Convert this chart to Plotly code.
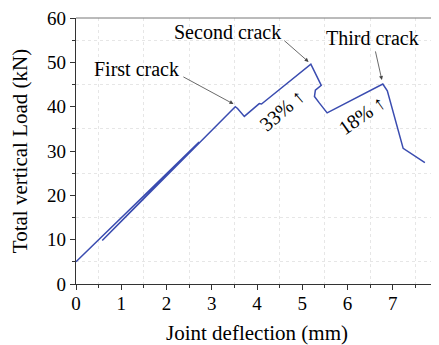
import plotly.graph_objects as go

# Load-deflection curve
deflection_mm = [0.00, 2.72, 0.58, 2.68, 0.62, 2.70, 3.52, 3.57, 3.72, 4.05, 4.10,
                 5.19, 5.42, 5.29, 5.27, 5.38, 5.55, 6.78, 6.88, 7.23, 7.71]
load_kN = [5.0, 32.0, 9.8, 31.4, 10.2, 31.8, 40.0, 39.6, 37.8, 40.7, 40.6,
           49.6, 44.8, 43.7, 42.3, 40.8, 38.6, 45.1, 43.6, 30.6, 27.4]

crack_labels = ["First crack", "Second crack", "Third crack"]
crack_tip_x = [3.48, 5.14, 6.76]
crack_tip_y = [40.6, 50.1, 46.0]
increase_labels = ["33% ↑", "18% ↑"]

FONT = "Liberation Serif, Times New Roman, serif"
LINE = "#3a4cb0"

fig = go.Figure()
fig.add_trace(go.Scatter(x=deflection_mm, y=load_kN, mode="lines",
                         line=dict(color=LINE, width=1.5), showlegend=False))

# crack annotations: text + arrow
text_pos = [(1.33, 48.4), (3.35, 56.9), (6.55, 55.4)]
tail_pos = [(2.34, 46.9), (4.57, 55.2), (6.61, 52.8)]
for lab, tx, ty, (px, py), (ax, ay) in zip(crack_labels, crack_tip_x, crack_tip_y, text_pos, tail_pos):
    fig.add_annotation(x=px, y=py, text=lab, showarrow=False,
                       font=dict(family=FONT, size=20, color="black"))
    fig.add_annotation(x=tx, y=ty, ax=ax, ay=ay, axref="x", ayref="y", text="",
                       showarrow=True, arrowhead=2, arrowsize=1, arrowwidth=0.8,
                       arrowcolor="#444")

fig.add_annotation(x=4.55, y=39.3, text=increase_labels[0], showarrow=False, textangle=-41,
                   font=dict(family=FONT, size=20, color="black"))
fig.add_annotation(x=6.32, y=38.1, text=increase_labels[1], showarrow=False, textangle=-35,
                   font=dict(family=FONT, size=20, color="black"))

# top and right frame lines
fig.add_shape(type="line", xref="paper", yref="paper", x0=0, x1=1, y0=1, y1=1,
              line=dict(color="#777", width=1))
fig.add_shape(type="line", xref="paper", yref="paper", x0=1, x1=1, y0=0, y1=1,
              line=dict(color="#777", width=1))

axis_common = dict(
    showline=True, linecolor="#333", linewidth=1.3, ticks="outside", ticklen=5,
    tickwidth=1.2, tickcolor="#333", showgrid=False, zeroline=False, automargin=False,
    ticklabeloverflow="allow",
    tickfont=dict(family=FONT, size=19, color="black"),
)
fig.update_xaxes(range=[0, 8], dtick=1, tick0=0, ticklabelstandoff=-3,
                 minor=dict(dtick=0.5, ticks="outside", ticklen=3, tickcolor="#333",
                            showgrid=True, gridcolor="#e6e6e6", griddash="dot", gridwidth=1),
                 title=dict(text="Joint deflection (mm)", standoff=12,
                            font=dict(family=FONT, size=21, color="black")),
                 **axis_common)
fig.update_yaxes(range=[0, 60], dtick=10, tick0=0,
                 minor=dict(dtick=5, ticks="outside", ticklen=3, tickcolor="#333",
                            showgrid=True, gridcolor="#e6e6e6", griddash="dot", gridwidth=1),
                 title=dict(text="Total vertical Load (kN)", standoff=14,
                            font=dict(family=FONT, size=21, color="black")),
                 **axis_common)

# the page body adds an 8px offset, so margins are shifted by 8px
fig.update_layout(width=439, height=345, margin=dict(l=68, r=9, t=10, b=69),
                  plot_bgcolor="white", paper_bgcolor="white",
                  font=dict(family=FONT, color="black"))

fig.write_html("out.html")
